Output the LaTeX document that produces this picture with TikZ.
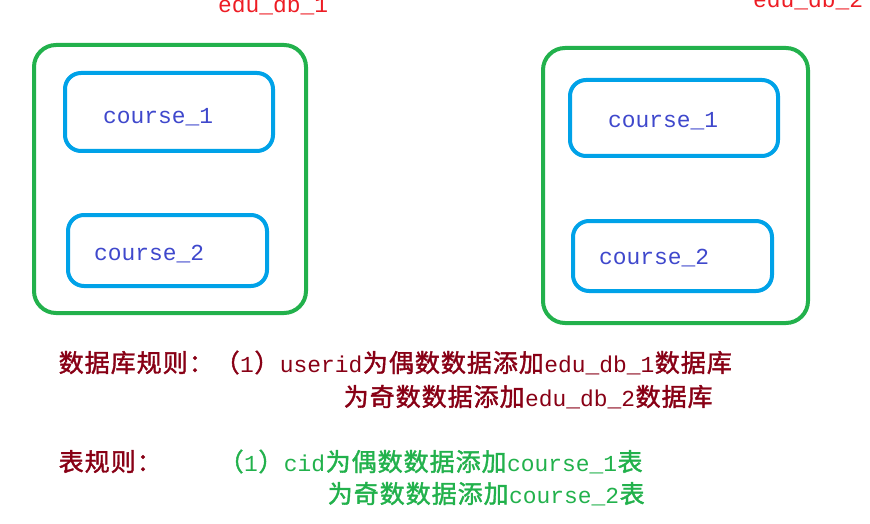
\documentclass[tikz,border=0pt]{standalone}
\usepackage{fontspec}
\newfontfamily\zhfont{Noto Sans CJK SC}[FakeBold=1.5]
\newfontfamily\enfont{Liberation Mono}
\definecolor{boxgreen}{RGB}{34,177,76}
\definecolor{boxblue}{RGB}{0,162,232}
\definecolor{tblue}{RGB}{63,72,204}
\definecolor{tred}{RGB}{237,28,36}
\definecolor{tdark}{RGB}{136,0,21}
\tikzset{
  dbbox/.style={draw=boxgreen, line width=4pt, rounded corners=22pt, inner sep=0pt},
  tbbox/.style={draw=boxblue, line width=4pt, rounded corners=16pt, inner sep=0pt},
  lbl/.style={inner sep=0pt, anchor=base west, font=\enfont\fontsize{22.9pt}{22.9pt}\selectfont},
  rule/.style={inner sep=0pt, anchor=base west, font=\fontsize{25pt}{26pt}\selectfont}
}
\newcommand{\zh}[1]{{\zhfont\fontsize{25pt}{26pt}\selectfont\addfontfeature{LetterSpace=4}#1}}
\newcommand{\cell}[1]{\makebox[26pt][c]{\zhfont\fontsize{25pt}{26pt}\selectfont #1}}
\newcommand{\en}[1]{{\enfont\fontsize{22.9pt}{26pt}\selectfont #1}}
\begin{document}
\begin{tikzpicture}[x=1pt,y=-1pt]
\useasboundingbox (0,0) rectangle (870,524);
\clip (0,0) rectangle (870,524);
% database boxes
\node[dbbox, minimum width=272pt, minimum height=268pt] (db1) at (170,179) {};
\node[dbbox, minimum width=265pt, minimum height=275pt] (db2) at (675.5,185.5) {};
% table boxes
\node[tbbox, minimum width=208pt, minimum height=78pt] (t11) at (169,112) {};
\node[tbbox, minimum width=199pt, minimum height=71pt] (t12) at (167.5,250.5) {};
\node[tbbox, minimum width=208pt, minimum height=76pt] (t21) at (674,118) {};
\node[tbbox, minimum width=199pt, minimum height=70pt] (t22) at (672.5,256) {};
% labels
\node[lbl, text=tblue] (l11) at (103,124) {course\_1};
\node[lbl, text=tblue] (l12) at (94,260) {course\_2};
\node[lbl, text=tblue] (l21) at (608,128) {course\_1};
\node[lbl, text=tblue] (l22) at (599,264) {course\_2};
\node[lbl, text=tred] (n1) at (218,13) {edu\_db\_1};
\node[lbl, text=tred] (n2) at (753,8) {edu\_db\_2};
% rules
\node[rule, text=tdark] (r1) at (58,372) {\cell{数}\cell{据}\cell{库}\cell{规}\cell{则}\cell{：}\cell{（}\en{1}\cell{）}\en{userid}\cell{为}\cell{偶}\cell{数}\cell{数}\cell{据}\cell{添}\cell{加}\en{edu\_db\_1}\cell{数}\cell{据}\cell{库}};
\node[rule, text=tdark] (r2) at (343,406) {\cell{为}\cell{奇}\cell{数}\cell{数}\cell{据}\cell{添}\cell{加}\en{edu\_db\_2}\cell{数}\cell{据}\cell{库}};
\node[rule, text=tdark] (r3) at (58,471) {\cell{表}\cell{规}\cell{则}\cell{：}};
\node[rule, text=boxgreen] (r4) at (218,471) {\cell{（}\en{1}\cell{）}\en{cid}\cell{为}\cell{偶}\cell{数}\cell{数}\cell{据}\cell{添}\cell{加}\en{course\_1}\cell{表}};
\node[rule, text=boxgreen] (r5) at (327,503) {\cell{为}\cell{奇}\cell{数}\cell{数}\cell{据}\cell{添}\cell{加}\en{course\_2}\cell{表}};
\end{tikzpicture}
\end{document}
